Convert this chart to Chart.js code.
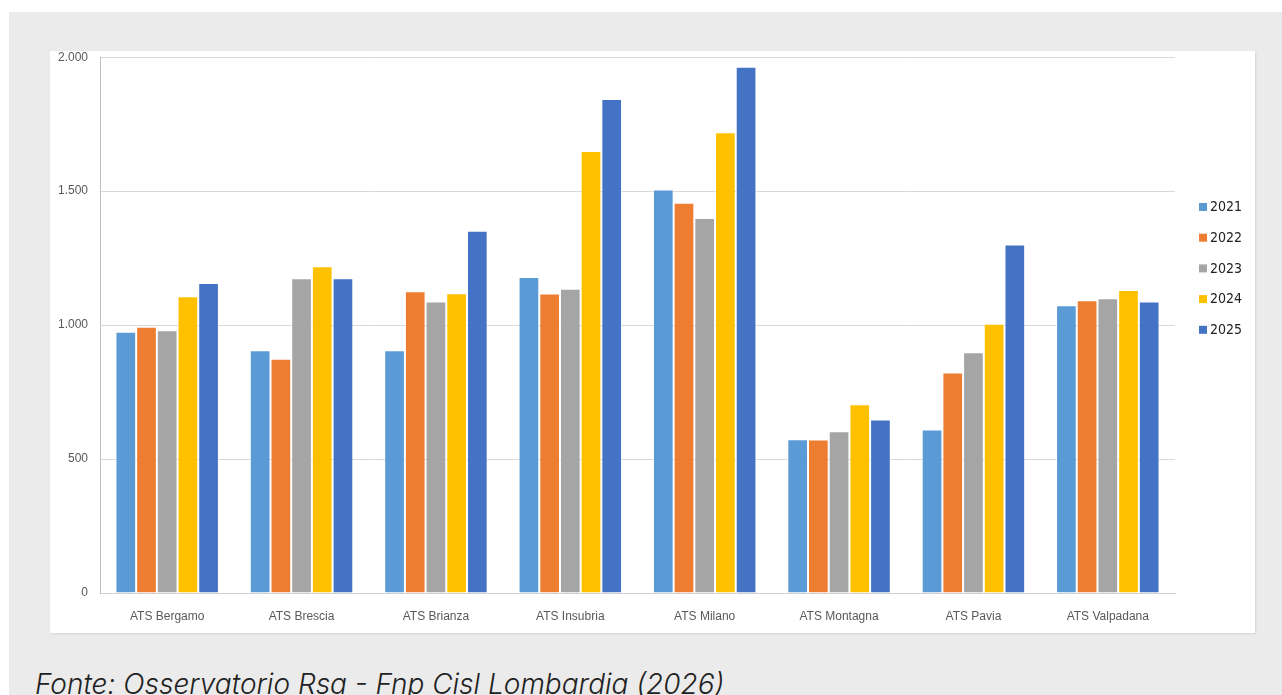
<!DOCTYPE html>
<html lang="it">
<head>
<meta charset="UTF-8">
<title>RSA per ATS 2021-2025</title>
<script src="https://cdn.jsdelivr.net/npm/chart.js"></script>
<style>
    html, body { margin: 0; padding: 0; background: #fff; }
    body { width: 1282px; height: 695px; position: relative; overflow: hidden; }
    .bg { position: absolute; left: 9px; top: 12px; right: 0; bottom: 0; background: #ebebeb; }
    .panel {
        position: absolute; left: 50px; top: 51px; width: 1205px; height: 582px;
        background: #fff; box-shadow: 1px 1px 2px rgba(0,0,0,0.10); overflow: hidden;
    }
    .panel canvas { position: absolute; left: 0; top: -13px; }
    .fonte {
        position: absolute; left: 35px; top: 670px; margin: 0;
        font-family: Inter, 'Noto Sans', sans-serif; font-weight: 300; font-style: italic;
        font-size: 28px; line-height: 28px; color: #222; white-space: nowrap;
    }
</style>
</head>
<body>
<div class="bg"></div>
<div class="panel"><canvas id="chart" width="1205" height="595"></canvas></div>
<p class="fonte">Fonte: Osservatorio Rsa - Fnp Cisl Lombardia (2026)</p>

<script>
// dati
const categories = ['ATS Bergamo', 'ATS Brescia', 'ATS Brianza', 'ATS Insubria', 'ATS Milano',
                    'ATS Montagna', 'ATS Pavia', 'ATS Valpadana'];
const years = ['2021', '2022', '2023', '2024', '2025'];
const v2021 = [975, 906, 906, 1180, 1506, 574, 610, 1074];
const v2022 = [994, 874, 1126, 1118, 1457, 573, 823, 1093];
const v2023 = [981, 1175, 1088, 1136, 1400, 604, 899, 1100];
const v2024 = [1108, 1220, 1119, 1650, 1720, 705, 1005, 1131];
const v2025 = [1157, 1175, 1352, 1844, 1964, 648, 1301, 1088];
const colors = ['#5B9BD5', '#ED7D31', '#A5A5A5', '#FFC000', '#4472C4'];
const series = [v2021, v2022, v2023, v2024, v2025];

function fmt(n) {
    return String(n).replace(/\B(?=(\d{3})+(?!\d))/g, '.');
}

// legenda disegnata a destra, come nell'originale
const sideLegend = {
    id: 'sideLegend',
    afterDraw(chart) {
        const ctx = chart.ctx;
        ctx.save();
        ctx.font = "14px 'Liberation Sans Narrow', 'DejaVu Sans Condensed', sans-serif";
        ctx.textBaseline = 'middle';
        chart.data.datasets.forEach((ds, i) => {
            const y = 169 + i * 30.7;
            ctx.fillStyle = ds.backgroundColor;
            ctx.fillRect(1149, y - 4, 8, 8);
            ctx.fillStyle = '#222';
            ctx.fillText(ds.label, 1160, y + 0.5);
        });
        ctx.restore();
    }
};

const ctx = document.getElementById('chart').getContext('2d');
new Chart(ctx, {
    type: 'bar',
    data: {
        labels: categories,
        datasets: years.map((y, i) => ({
            label: y,
            data: series[i],
            backgroundColor: colors[i],
            borderColor: 'rgba(255,255,255,0.45)',
            borderWidth: 1,
            categoryPercentage: 0.77,
            barPercentage: 1.0
        }))
    },
    options: {
        responsive: false,
        animation: false,
        devicePixelRatio: 1,
        layout: { padding: { top: 0, right: 80, bottom: 0, left: 0 } },
        plugins: {
            legend: { display: false },
            tooltip: { enabled: false }
        },
        scales: {
            x: {
                afterFit(scale) { scale.height = 40; },
                grid: { display: false },
                border: { color: '#d0d0d0' },
                ticks: {
                    color: '#595959',
                    padding: 8,
                    font: { family: "'Liberation Sans', sans-serif", size: 12 }
                }
            },
            y: {
                min: 0,
                max: 2000,
                afterFit(scale) { scale.width = 50; },
                grid: { color: '#d9d9d9', drawTicks: false },
                border: { color: '#bfbfbf' },
                ticks: {
                    stepSize: 500,
                    padding: 12,
                    color: '#595959',
                    font: { family: "'Liberation Sans', sans-serif", size: 12 },
                    callback: v => fmt(v)
                }
            }
        }
    },
    plugins: [sideLegend]
});
</script>
</body>
</html>
